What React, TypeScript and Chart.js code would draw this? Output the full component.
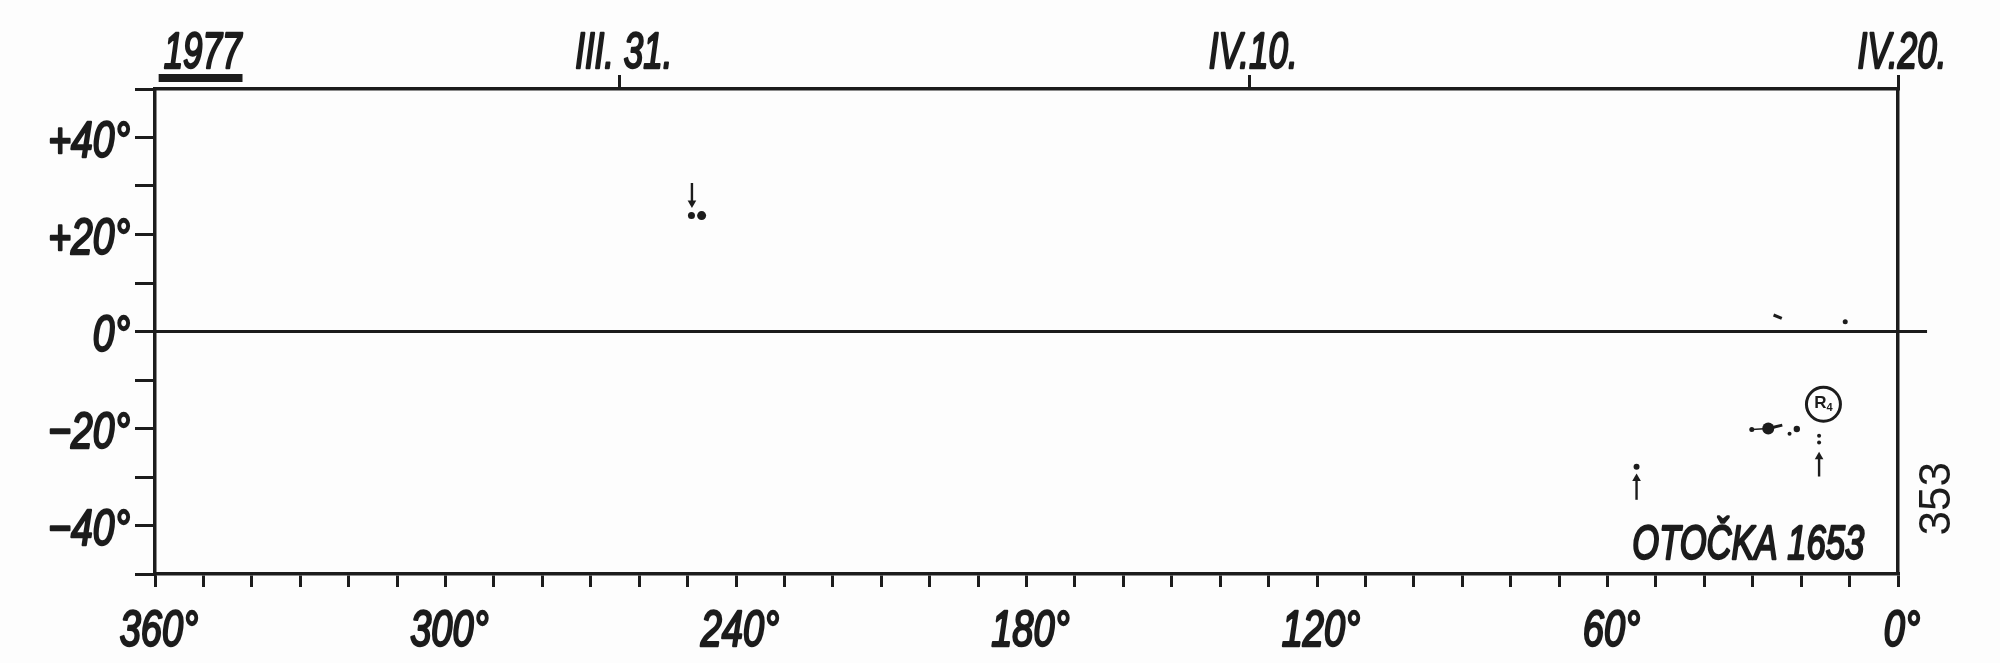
import React, { useEffect, useRef } from 'react';
import { Chart, registerables } from 'chart.js';

Chart.register(...registerables);

// ---- data (Carrington longitude [deg], heliographic latitude [deg]) ----
const spotLongitudes = [249.2, 247.1, 10.9, 30.2, 26.8, 22.4, 20.9, 16.3, 16.3, 54.0];
const spotLatitudes = [23.9, 23.9, 2.0, -20.2, -20.0, -21.1, -20.1, -21.5, -22.9, -27.9];

const trailStartLon = [30.2, 26.8, 25.7];
const trailStartLat = [-20.2, -20.0, 3.4];
const trailEndLon = [26.8, 23.9, 24.0];
const trailEndLat = [-20.0, -19.3, 2.7];

const arrowLongitudes = [249.1, 16.3, 54.0];
const arrowTailLatitudes = [30.6, -29.9, -34.7];
const arrowTipLatitudes = [26.5, -25.8, -30.3];

const regionLongitude = [15.4];
const regionLatitude = [-15.0];
const regionName = 'R';
const regionNumber = '4';

const equatorLongitudes = [360, -6];
const equatorLatitude = 0;

const longitudeLabelValues = [360, 300, 240, 180, 120, 60, 0];
const latitudeLabelValues = [40, 20, 0, -20, -40];
const dateLongitudes = [351, 264, 134, 0];
const dateLabels = ['1977', 'III. 31.', 'IV.10.', 'IV.20.'];

const chartTitle = 'OTOČKA 1653';
const pageNumber = '353';

// ---- styles ----
const INK = '#1c1c1c';
const PAPER = '#fdfdfd';
const LABEL_FAMILY = '"Liberation Sans", Arial, sans-serif';

function drawText(
  ctx: CanvasRenderingContext2D,
  text: string,
  x: number,
  y: number,
  size: number,
  sx: number,
  align: CanvasTextAlign,
  pen = 2.4,
) {
  ctx.save();
  ctx.translate(x, y);
  ctx.scale(sx, 1);
  ctx.font = `italic normal ${size}px ${LABEL_FAMILY}`;
  ctx.textAlign = align;
  ctx.textBaseline = 'alphabetic';
  ctx.lineJoin = 'round';
  ctx.lineWidth = pen;
  ctx.fillText(text, 0, 0);
  ctx.strokeText(text, 0, 0);
  ctx.restore();
}

function latLabel(n: number) {
  if (n === 0) return '0°';
  return `${n > 0 ? '+' : '−'}${Math.abs(n)}°`;
}

const annotatePlugin = {
  id: 'annotate',
  afterDraw(chart: any) {
    const ctx: CanvasRenderingContext2D = chart.ctx;
    const sx = chart.scales.x;
    const sy = chart.scales.y;
    const st = chart.scales.x2;
    ctx.save();
    ctx.fillStyle = INK;
    ctx.strokeStyle = INK;

    // bottom axis labels (longitude)
    for (const t of sx.ticks) {
      if (!longitudeLabelValues.includes(t.value)) continue;
      drawText(ctx, `${t.value}°`, sx.getPixelForValue(t.value) + 4, sx.top + 72, 50, 0.76, 'center');
    }
    // left axis labels (latitude)
    for (const t of sy.ticks) {
      if (!latitudeLabelValues.includes(t.value)) continue;
      drawText(ctx, latLabel(t.value), sy.right - 25, sy.getPixelForValue(t.value) + 19, 50, 0.78, 'right');
    }
    // top axis labels (dates)
    for (const t of st.ticks) {
      const i = dateLongitudes.indexOf(t.value);
      if (i < 0) continue;
      drawText(ctx, dateLabels[i], st.getPixelForValue(t.value) + 4, st.bottom - 21, 50, 0.7, 'center');
    }
    // underline of the year label
    ctx.font = `italic normal 50px ${LABEL_FAMILY}`;
    const yx = st.getPixelForValue(dateLongitudes[0]) + 2;
    const yw = ctx.measureText(dateLabels[0]).width * 0.7;
    ctx.fillRect(yx - yw / 2 - 3, st.bottom - 15, yw + 6, 8);

    // title inside plot
    drawText(ctx, chartTitle, sx.getPixelForValue(7), sy.getPixelForValue(-47), 48, 0.72, 'right');

    // page number, rotated
    ctx.save();
    ctx.translate(sx.getPixelForValue(-8.3), sy.getPixelForValue(-34.5));
    ctx.rotate(-Math.PI / 2);
    ctx.font = `normal 44px ${LABEL_FAMILY}`;
    ctx.textAlign = 'center';
    ctx.textBaseline = 'middle';
    ctx.fillText(pageNumber, 0, 0);
    ctx.restore();

    // region label inside the circle
    const rx = sx.getPixelForValue(regionLongitude[0]);
    const ry = sy.getPixelForValue(regionLatitude[0]);
    ctx.font = `bold 17px ${LABEL_FAMILY}`;
    ctx.textAlign = 'right';
    ctx.textBaseline = 'middle';
    ctx.fillText(regionName, rx + 3, ry - 1);
    ctx.font = `bold 11px ${LABEL_FAMILY}`;
    ctx.textAlign = 'left';
    ctx.fillText(regionNumber, rx + 3, ry + 4);
    ctx.restore();
  },
};

export default function App() {
  const ref = useRef<HTMLCanvasElement>(null);

  useEffect(() => {
    document.body.style.margin = '0';
    document.body.style.background = PAPER;
    const canvas = ref.current as HTMLCanvasElement;

    const spotRadii = [3.5, 4.5, 2.5, 2.5, 6, 2, 3.2, 2, 2, 3];

    const datasets: any[] = [];
    datasets.push({
      type: 'line',
      data: equatorLongitudes.map((x) => ({ x, y: equatorLatitude })),
      borderColor: INK,
      borderWidth: 3,
      pointRadius: 0,
      clip: false,
    });
    datasets.push({
      type: 'scatter',
      data: spotLongitudes.map((x, i) => ({ x, y: spotLatitudes[i] })),
      backgroundColor: INK,
      borderWidth: 0,
      pointRadius: spotRadii,
    });
    trailStartLon.forEach((_, i) => {
      datasets.push({
        type: 'line',
        data: [
          { x: trailStartLon[i], y: trailStartLat[i] },
          { x: trailEndLon[i], y: trailEndLat[i] },
        ],
        borderColor: INK,
        borderWidth: i === 0 ? 1.5 : 3,
        pointRadius: 0,
      });
    });
    arrowLongitudes.forEach((x, i) => {
      const up = arrowTipLatitudes[i] > arrowTailLatitudes[i];
      datasets.push({
        type: 'line',
        data: [
          { x, y: arrowTailLatitudes[i] },
          { x, y: arrowTipLatitudes[i] },
        ],
        borderColor: INK,
        borderWidth: 2.4,
        pointRadius: [0, 5],
        pointStyle: 'triangle',
        rotation: up ? 0 : 180,
        backgroundColor: INK,
        pointBorderWidth: 0,
      });
    });
    datasets.push({
      type: 'scatter',
      data: regionLongitude.map((x, i) => ({ x, y: regionLatitude[i] })),
      backgroundColor: 'rgba(0,0,0,0)',
      borderColor: INK,
      borderWidth: 3,
      pointRadius: 17,
    });

    const chart = new Chart(canvas, {
      type: 'scatter',
      data: { datasets },
      plugins: [annotatePlugin],
      options: {
        animation: false,
        responsive: false,
        maintainAspectRatio: false,
        devicePixelRatio: 1,
        layout: { padding: { left: 0, right: 102, top: 0, bottom: 0 } },
        plugins: { legend: { display: false }, tooltip: { enabled: false } },
        scales: {
          x: {
            type: 'linear',
            position: 'bottom',
            min: 0,
            max: 360,
            reverse: true,
            ticks: { stepSize: 10, autoSkip: false, display: false },
            grid: { drawOnChartArea: false, tickLength: 13, color: INK, lineWidth: 3 },
            border: { color: INK, width: 3.5 },
            afterFit: (s: any) => {
              s.height = 89;
            },
          },
          x2: {
            type: 'linear',
            position: 'top',
            min: 0,
            max: 360,
            reverse: true,
            afterBuildTicks: (s: any) => {
              s.ticks = dateLongitudes.map((value) => ({ value }));
            },
            ticks: { autoSkip: false, display: false },
            grid: {
              drawOnChartArea: false,
              tickLength: 14,
              lineWidth: 3,
              color: (c: any) => (c.tick && c.tick.value === dateLongitudes[0] ? 'rgba(0,0,0,0)' : INK),
            },
            border: { color: INK, width: 3.5 },
            afterFit: (s: any) => {
              s.height = 89;
            },
          },
          y: {
            type: 'linear',
            position: 'left',
            min: -50,
            max: 50,
            ticks: { stepSize: 10, autoSkip: false, display: false },
            grid: { drawOnChartArea: false, tickLength: 20, color: INK, lineWidth: 3 },
            border: { color: INK, width: 3.5 },
            afterFit: (s: any) => {
              s.width = 155;
            },
          },
          y2: {
            type: 'linear',
            position: 'right',
            min: -50,
            max: 50,
            ticks: { display: false },
            grid: { drawOnChartArea: false, drawTicks: false },
            border: { color: INK, width: 3.5 },
            afterFit: (s: any) => {
              s.width = 0;
            },
          },
        },
      } as any,
    });

    return () => chart.destroy();
  }, []);

  return (
    <div style={{ width: 2000, height: 663, background: PAPER }}>
      <canvas ref={ref} width={2000} height={663} style={{ display: 'block', width: 2000, height: 663 }} />
    </div>
  );
}
